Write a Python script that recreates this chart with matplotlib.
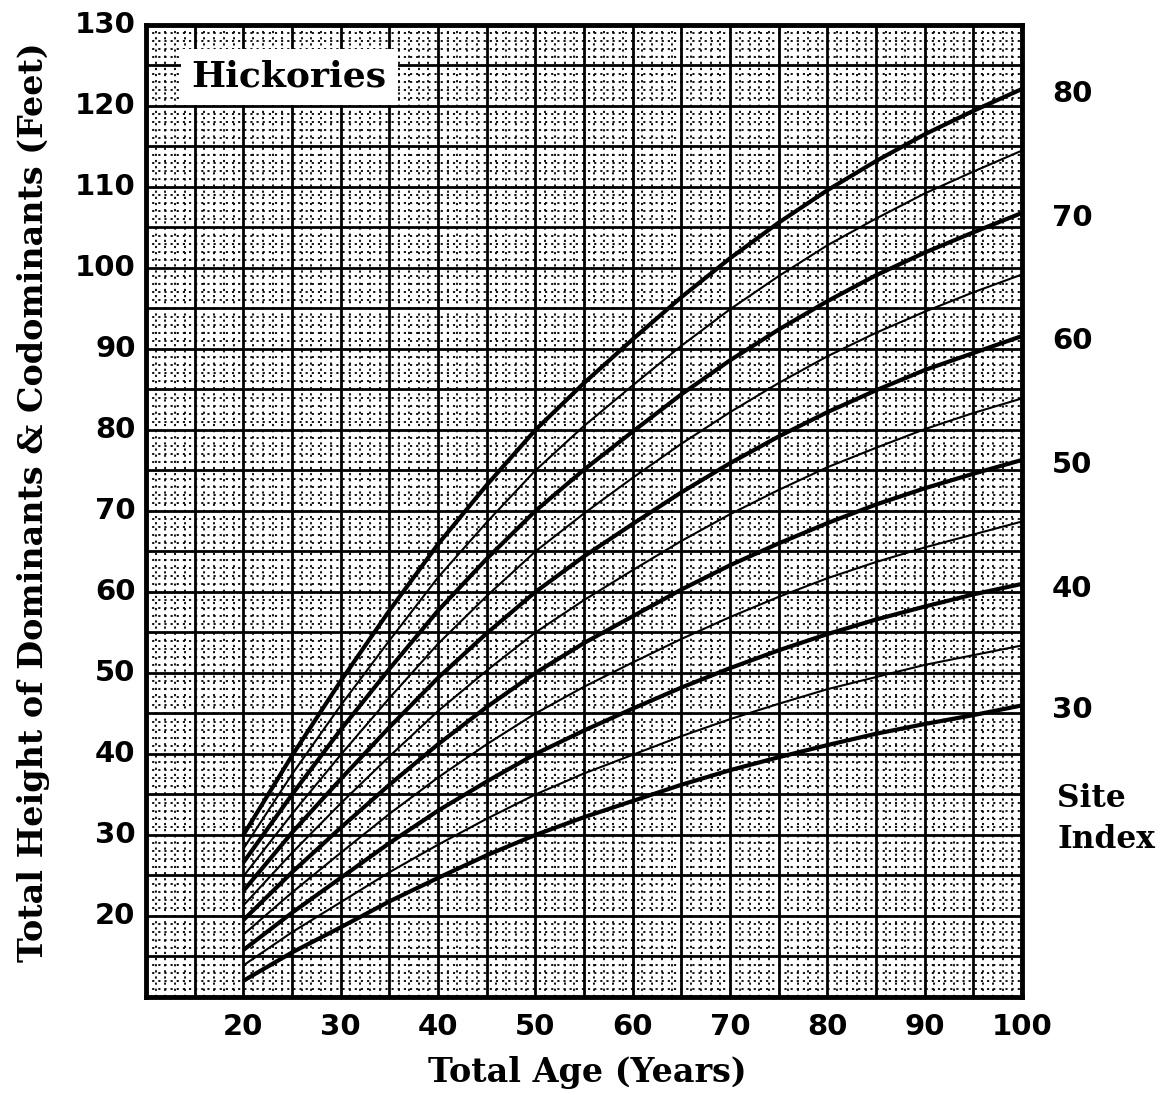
"""
Site index curves for hickories
$ python ./plot.py
"""
import matplotlib
matplotlib.use("Agg")
import matplotlib.pyplot as plt
import numpy as np

ages = [20, 25, 30, 35, 40, 45, 50, 55, 60, 65, 70, 75, 80, 85, 90, 95, 100]

# total height (feet) for each site index curve
si80 = [30.0, 39.8, 49.0, 57.7, 65.9, 73.2, 80.0, 85.8, 91.2, 96.4, 101.2, 105.6, 109.6, 113.2, 116.5, 119.4, 122.1]
si75 = [28.3, 37.5, 46.0, 54.0, 61.8, 68.6, 75.0, 80.5, 85.5, 90.4, 94.9, 99.0, 102.8, 106.1, 109.2, 111.9, 114.5]
si70 = [26.6, 35.0, 43.0, 50.5, 57.7, 64.1, 70.0, 75.1, 79.8, 84.4, 88.6, 92.4, 95.9, 99.1, 101.9, 104.4, 106.8]
si65 = [24.9, 32.6, 39.9, 46.9, 53.6, 59.5, 65.0, 69.7, 74.1, 78.3, 82.2, 85.8, 89.1, 92.0, 94.6, 97.0, 99.2]
si60 = [23.1, 30.3, 36.9, 43.3, 49.4, 54.9, 60.0, 64.4, 68.4, 72.3, 75.9, 79.2, 82.2, 84.9, 87.4, 89.5, 91.6]
si55 = [21.3, 27.8, 33.9, 39.7, 45.3, 50.3, 55.0, 59.0, 62.7, 66.3, 69.6, 72.6, 75.4, 77.8, 80.1, 82.1, 83.9]
si50 = [19.5, 25.4, 30.9, 36.2, 41.2, 45.8, 50.0, 53.7, 57.0, 60.3, 63.3, 66.0, 68.5, 70.8, 72.8, 74.6, 76.3]
si45 = [17.7, 22.9, 27.8, 32.6, 37.1, 41.2, 45.0, 48.3, 51.3, 54.2, 56.9, 59.4, 61.7, 63.7, 65.5, 67.1, 68.7]
si40 = [15.8, 20.4, 24.7, 29.0, 33.0, 36.6, 40.0, 42.9, 45.6, 48.2, 50.6, 52.8, 54.8, 56.6, 58.2, 59.7, 61.0]
si35 = [13.9, 18.0, 21.7, 25.4, 28.8, 32.0, 35.0, 37.6, 39.9, 42.2, 44.3, 46.2, 48.0, 49.5, 51.0, 52.2, 53.4]
si30 = [12.0, 15.5, 18.6, 21.8, 24.7, 27.5, 30.0, 32.2, 34.2, 36.2, 38.0, 39.6, 41.1, 42.5, 43.7, 44.8, 46.0]

curves = [si80, si75, si70, si65, si60, si55, si50, si45, si40, si35, si30]
heavy = [True, False, True, False, True, False, True, False, True, False, True]

x_ticks = [20, 30, 40, 50, 60, 70, 80, 90, 100]
y_ticks = [20, 30, 40, 50, 60, 70, 80, 90, 100, 110, 120, 130]
site_labels = [80, 70, 60, 50, 40, 30]
site_label_heights = [122.1, 106.8, 91.6, 76.3, 61.0, 46.0]

num_font = "DejaVu Sans"
txt_font = "DejaVu Serif"

fig = plt.figure(figsize=(11.71, 10.95), dpi=100)
ax = fig.add_axes([0.1247, 0.0895, 0.7481, 0.8877])
ax.set_xlim(10, 100)
ax.set_ylim(10, 130)

# graph paper: dotted 1-unit grid, solid 5-unit grid
ax.set_xticks(np.arange(10, 101, 5))
ax.set_yticks(np.arange(10, 131, 5))
ax.set_xticks(np.arange(10, 101, 1), minor=True)
ax.set_yticks(np.arange(10, 131, 1), minor=True)
ax.grid(which="major", color="black", linewidth=2.0)
ax.grid(which="minor", color="black", linewidth=1.3, linestyle=(0, (1.2, 2.2)))
ax.set_axisbelow(True)
ax.tick_params(which="both", length=0, labelleft=False, labelbottom=False)
for sp in ax.spines.values():
    sp.set_linewidth(3.5)

for vals, hv in zip(curves, heavy):
    ax.plot(ages, vals, color="black", linewidth=3.0 if hv else 1.5,
            solid_capstyle="butt", solid_joinstyle="round", zorder=3)

# tick labels drawn as text so the grid lines can stay every 5 units
for t in x_ticks:
    ax.text(t, -0.031, str(t), transform=ax.get_xaxis_transform(),
            ha="center", va="center", fontsize=21, fontweight="bold", family=num_font)
for t in y_ticks:
    ax.text(-0.012, t, str(t), transform=ax.get_yaxis_transform(),
            ha="right", va="center", fontsize=21, fontweight="bold", family=num_font)
for lab, h in zip(site_labels, site_label_heights):
    ax.text(1.034, h - 0.6, str(lab), transform=ax.get_yaxis_transform(),
            ha="left", va="center", fontsize=21, fontweight="bold", family=num_font)

ax.text(1.04, 36.4, "Site\nIndex", transform=ax.get_yaxis_transform(),
        ha="left", va="top", fontsize=22.5, fontweight="bold", family=txt_font,
        linespacing=1.4)

ax.text(0.052, 123.6, "Hickories", transform=ax.get_yaxis_transform(),
        ha="left", va="center", fontsize=26, fontweight="bold", family=txt_font,
        bbox=dict(boxstyle="square,pad=0.3", facecolor="white", edgecolor="none"),
        zorder=5)

fig.text(0.5016, 0.021, "Total Age (Years)", ha="center", va="center",
         fontsize=24, fontweight="bold", family=txt_font)
fig.text(0.029, 0.5416, "Total Height of Dominants & Codominants (Feet)",
         rotation=90, ha="center", va="center", fontsize=24, fontweight="bold",
         family=txt_font)

fig.savefig("out.png", dpi=100, facecolor="white")
